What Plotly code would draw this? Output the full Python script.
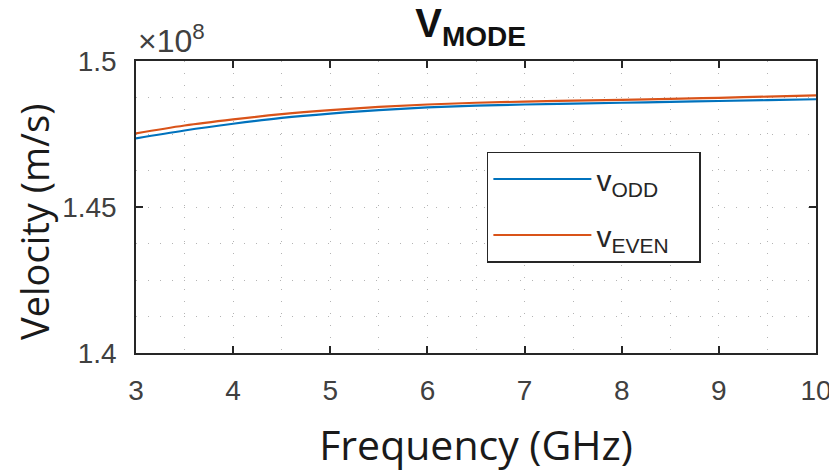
import plotly.graph_objects as go

freq_ghz = [3, 3.5, 4, 4.5, 5, 5.5, 6, 6.5, 7, 7.5, 8, 8.5, 9, 9.5, 10]
v_odd = [1.4735, 1.4762, 1.4785, 1.4805, 1.4820, 1.4832, 1.4841, 1.4847,
         1.4851, 1.4854, 1.4857, 1.4860, 1.4863, 1.4866, 1.4869]
v_even = [1.4752, 1.4779, 1.4800, 1.4818, 1.4832, 1.4843, 1.4851, 1.4857,
          1.4861, 1.4864, 1.4867, 1.4870, 1.4874, 1.4878, 1.4882]
x_ticks = [3, 4, 5, 6, 7, 8, 9, 10]
y_ticks = [1.4, 1.45, 1.5]
y_tick_labels = ["1.4", "1.45", "1.5"]

fig = go.Figure()
fig.add_trace(go.Scatter(x=freq_ghz, y=v_odd, mode="lines",
                         name="v<sub>ODD</sub>&nbsp;&nbsp;&nbsp;",
                         legendgroup="odd",
                         line=dict(color="#0072BD", width=2.2, shape="spline")))
fig.add_trace(go.Scatter(x=freq_ghz, y=v_even, mode="lines",
                         name="v<sub>EVEN</sub>&nbsp;&nbsp;&nbsp;",
                         legendgroup="even",
                         line=dict(color="#D95319", width=2.2, shape="spline")))

axis_common = dict(showline=True, linecolor="#262626", linewidth=1.5, mirror="ticks",
                   ticks="inside", ticklen=7, tickcolor="#262626", tickwidth=1.5,
                   zeroline=False, showgrid=True, automargin=False,
                   ticklabeloverflow="allow",
                   gridcolor="#b4b4b4", griddash="1px,11px", gridwidth=1,
                   tickfont=dict(family="Liberation Sans, Arial", size=28, color="#404040"))

fig.update_xaxes(range=[3, 10], tickvals=x_ticks, ticklabelstandoff=12,
                 minor=dict(dtick=0.5, showgrid=True, gridcolor="#b4b4b4",
                            griddash="1px,11px", ticks=""),
                 title=dict(text="Frequency (GHz)", standoff=26,
                            font=dict(family="Open Sans", size=41, color="#1a1a1a")),
                 **axis_common)
fig.update_yaxes(range=[1.4, 1.5], tickvals=y_ticks, ticktext=y_tick_labels,
                 ticklabelstandoff=12,
                 minor=dict(dtick=0.0125, showgrid=True, gridcolor="#b4b4b4",
                            griddash="1px,11px", ticks=""),
                 title=dict(text="Velocity (m/s)&nbsp;&nbsp;&nbsp;", standoff=10,
                            font=dict(family="Open Sans", size=38, color="#1a1a1a")),
                 **axis_common)

fig.update_layout(
    width=829, height=474,
    margin=dict(l=128, r=21, t=53, b=129),
    paper_bgcolor="white", plot_bgcolor="white",
    title=dict(text="<b>V<sub>MODE</sub></b>", x=0.558, xanchor="center",
               y=0.968, yanchor="middle",
               font=dict(family="Liberation Sans, Arial", size=40, color="#111111")),
    legend=dict(x=0.516, y=0.69, xanchor="left", yanchor="top",
                bgcolor="white", bordercolor="#262626", borderwidth=1.5,
                font=dict(family="Liberation Sans, Arial", size=30, color="#262626"),
                traceorder="grouped", tracegroupgap=14, itemwidth=98),
    showlegend=True,
)
fig.add_annotation(text="×10<sup>8</sup>", xref="paper", yref="paper", x=0.0, y=1.0,
                   xanchor="left", yanchor="bottom", showarrow=False, yshift=0,
                   font=dict(family="Liberation Sans, Arial", size=32, color="#404040"))

fig.write_html("out.html")
